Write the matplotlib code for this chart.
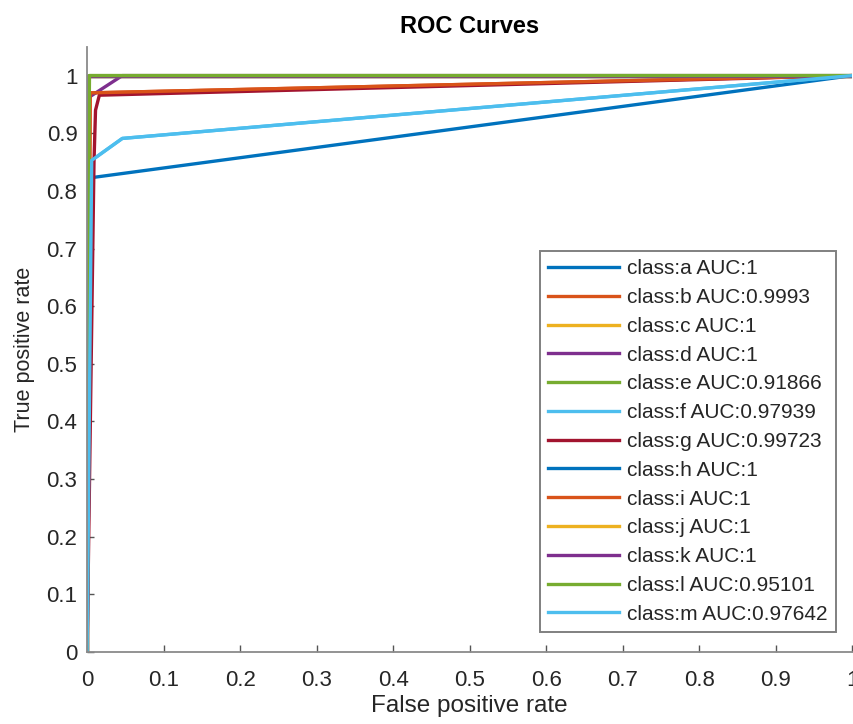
import numpy as np
import matplotlib.pyplot as plt

plt.rcParams['font.family'] = ['Liberation Sans', 'DejaVu Sans']

# false / true positive rates
classes = ['a', 'b', 'c', 'd', 'e', 'f', 'g', 'h', 'i', 'j', 'k', 'l', 'm']
aucs = ['1', '0.9993', '1', '1', '0.91866', '0.97939', '0.99723',
        '1', '1', '1', '1', '0.95101', '0.97642']

fpr_a = [0, 0.006, 1];            tpr_a = [0, 0.823, 1]
fpr_b = [0, 0.004, 1];            tpr_b = [0, 0.970, 1]
fpr_c = [0, 0.0, 1];              tpr_c = [0, 1.0, 1]
fpr_d = [0, 0.002, 0.046, 1];     tpr_d = [0, 0.962, 1.0, 1]
fpr_e = [0, 0.003, 1];            tpr_e = [0, 1.0, 1]
fpr_f = [0, 0.006, 0.046, 1];     tpr_f = [0, 0.853, 0.891, 1]
fpr_g = [0, 0.009, 0.011, 0.016, 1]; tpr_g = [0, 0.85, 0.94, 0.966, 1]
fpr_h = [0, 0.0, 1];              tpr_h = [0, 1.0, 1]
fpr_i = [0, 0.004, 1];            tpr_i = [0, 0.970, 1]
fpr_j = [0, 0.0, 1];              tpr_j = [0, 1.0, 1]
fpr_k = [0, 0.0, 1];              tpr_k = [0, 1.0, 1]
fpr_l = [0, 0.003, 1];            tpr_l = [0, 1.0, 1]
fpr_m = [0, 0.006, 0.046, 1];     tpr_m = [0, 0.853, 0.891, 1]

fprs = [fpr_a, fpr_b, fpr_c, fpr_d, fpr_e, fpr_f, fpr_g,
        fpr_h, fpr_i, fpr_j, fpr_k, fpr_l, fpr_m]
tprs = [tpr_a, tpr_b, tpr_c, tpr_d, tpr_e, tpr_f, tpr_g,
        tpr_h, tpr_i, tpr_j, tpr_k, tpr_l, tpr_m]

# matlab default line colours
colors = ['#0072BD', '#D95319', '#EDB120', '#7E2F8E', '#77AC30', '#4DBEEE', '#A2142F']

fig = plt.figure(figsize=(8.54, 7.24), dpi=100)
ax = fig.add_axes([0.102, 0.0994, 0.896, 0.836])

for i, c in enumerate(classes):
    ax.plot(fprs[i], tprs[i], color=colors[i % 7], lw=2.4,
            label='class:%s AUC:%s' % (c, aucs[i]))

ax.set_xlim(0, 1)
ax.set_ylim(0, 1.05)
ax.set_xticks(np.arange(0, 1.01, 0.1))
ax.set_yticks(np.arange(0, 1.01, 0.1))
ax.set_xticklabels(['0'] + ['%.1f' % v for v in np.arange(0.1, 0.95, 0.1)] + ['1'])
ax.set_yticklabels(['0'] + ['%.1f' % v for v in np.arange(0.1, 0.95, 0.1)] + ['1'])

for s in ['top', 'right']:
    ax.spines[s].set_visible(False)
for s in ['left', 'bottom']:
    ax.spines[s].set_color('#8a8a8a')
    ax.spines[s].set_linewidth(1.3)
ax.tick_params(direction='in', length=5, width=1, color='#555555',
               labelsize=16, labelcolor='#262626')
ax.tick_params(axis='x', pad=13)
ax.tick_params(axis='y', pad=7)

ax.set_xlabel('False positive rate', fontsize=17.5, color='#262626', labelpad=3)
ax.set_ylabel('True positive rate', fontsize=15.5, color='#262626', labelpad=8)
ax.set_title('ROC Curves', fontsize=17, fontweight='bold', color='black', pad=10)

leg = ax.legend(loc='lower right', bbox_to_anchor=(0.979, 0.033), borderaxespad=0,
                fontsize=15, handlelength=3.4, handletextpad=0.4, labelspacing=0.47,
                fancybox=False, edgecolor='#808080', framealpha=1, borderpad=0.4)
leg.get_frame().set_linewidth(1.4)
for t in leg.get_texts():
    t.set_color('#262626')

fig.savefig('out.png', dpi=100)
